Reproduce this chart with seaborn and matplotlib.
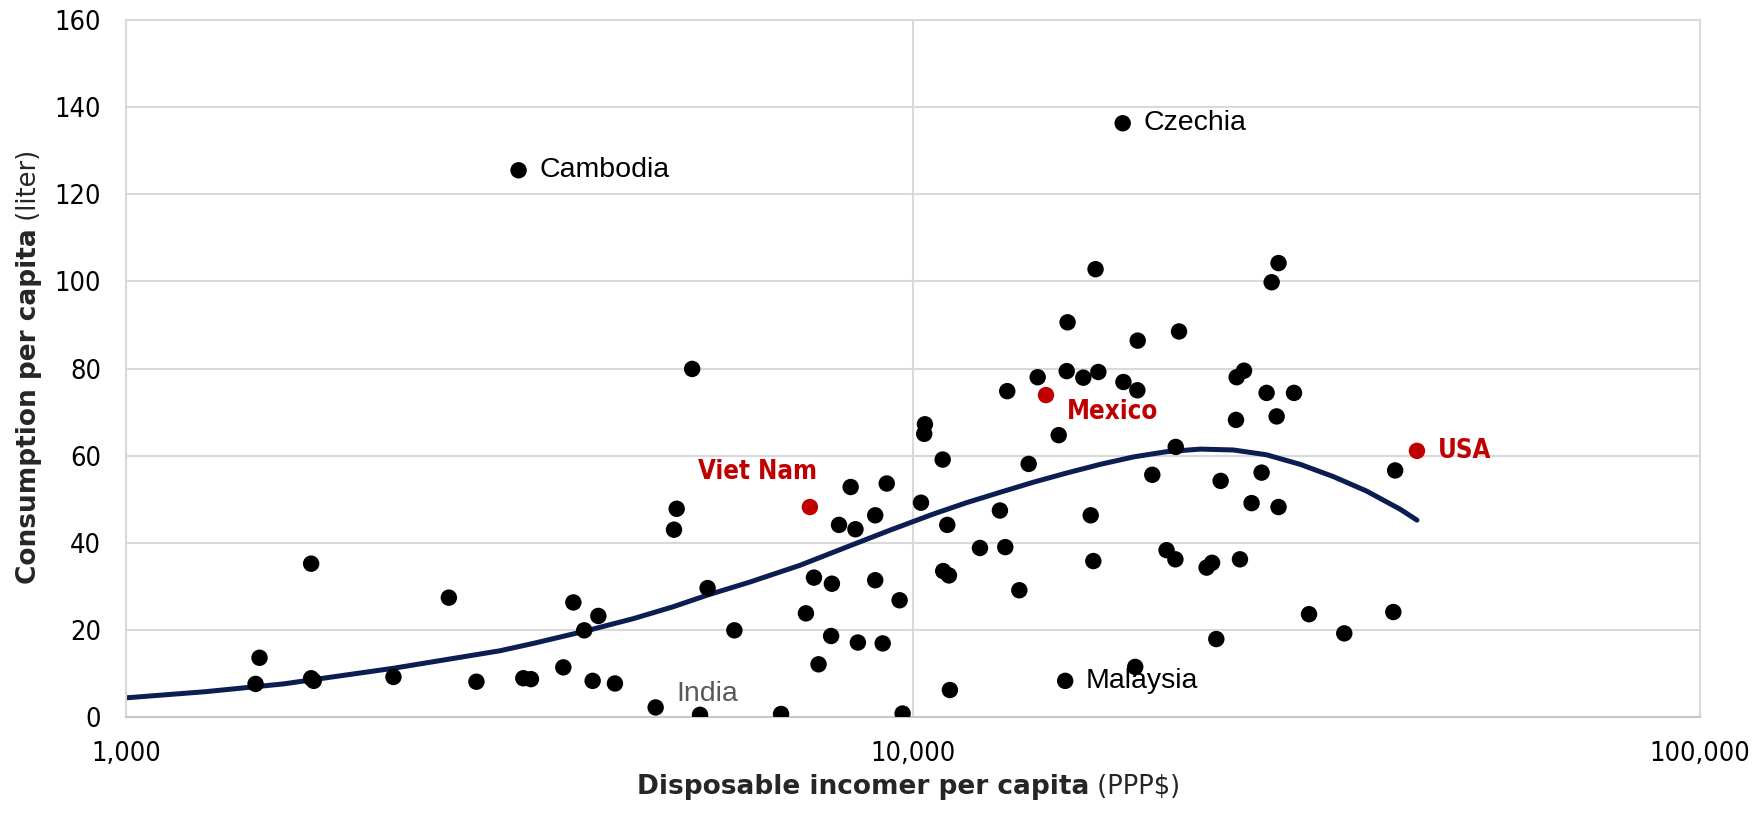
import numpy as np
import pandas as pd
import seaborn as sns
import matplotlib.pyplot as plt

# disposable income per capita (PPP$) and consumption per capita (liter)
income = [1461, 1478, 1719, 1719, 1732, 2187, 2572, 2788, 3198, 3270,
          3595, 3702, 3822, 3917, 3983, 4181, 5009, 4970, 5241, 5363,
          5483, 5930, 6798, 7311, 7485, 7586, 7888, 7870, 8054, 8333,
          8451, 8511, 8954, 8954, 9152, 9261, 9616, 9701, 10237, 10356,
          10334, 10908, 10925, 11110, 11056, 11140, 12165, 12896, 13100, 13176,
          13650, 14028, 14403, 15317, 15680, 15720, 16460, 16820, 16950, 17060,
          17200, 18510, 19160, 19300, 19280, 20140, 21000, 21550, 21570, 21780,
          23610, 23990, 24290, 24600, 25730, 25780, 26340, 26030, 26930, 27730,
          28140, 28560, 29140, 28980, 29140, 30490, 31860, 35320, 40770, 40990]
consumption = [7.6, 13.6, 35.2, 8.9, 8.3, 9.2, 27.4, 8.1, 8.9, 8.7,
               11.4, 26.3, 19.9, 8.3, 23.2, 7.7, 47.8, 43.0, 79.9, 0.5,
               29.6, 19.9, 0.7, 23.8, 32.0, 12.1, 30.6, 18.6, 44.1, 52.8,
               43.1, 17.1, 46.3, 31.4, 16.9, 53.6, 26.8, 0.8, 49.2, 67.2,
               65.0, 59.1, 33.5, 32.5, 44.1, 6.2, 38.8, 47.4, 39.0, 74.8,
               29.1, 58.1, 78.0, 64.7, 79.4, 90.6, 77.9, 46.3, 35.8, 102.8,
               79.2, 76.9, 11.5, 86.4, 75.0, 55.6, 38.3, 36.2, 62.0, 88.5,
               34.3, 35.4, 17.9, 54.2, 68.2, 78.0, 79.5, 36.2, 49.1, 56.1,
               74.4, 99.8, 104.2, 69.0, 48.2, 74.4, 23.6, 19.2, 24.1, 56.6]

# countries named in black / grey
named = ['Cambodia', 'Czechia', 'Malaysia', 'India']
named_income = [3154, 18470, 15610, 4710]
named_consumption = [125.5, 136.3, 8.3, 2.2]

# highlighted countries
red_names = ['Viet Nam', 'Mexico', 'USA']
red_income = [7396, 14757, 43690]
red_consumption = [48.2, 73.9, 61.1]

# trend line
trend_income = [1000, 1259, 1585, 2188, 2985, 3293, 3828, 4416, 4955, 5483,
                6209, 7178, 8204, 9354, 10617, 11695, 12912, 14223, 15668, 17298,
                19055, 20989, 23174, 25527, 28119, 31046, 34198, 37670, 41591, 43690]
trend_consumption = [4.4, 5.8, 7.6, 11.2, 15.2, 16.9, 19.7, 22.6, 25.3, 28.0,
                     31.0, 34.8, 38.9, 42.9, 46.6, 49.2, 51.6, 53.9, 56.0, 58.0,
                     59.7, 60.9, 61.5, 61.3, 60.2, 58.0, 55.2, 51.9, 47.7, 45.2]

xticks = [1000, 10000, 100000]
xtick_labels = ['1,000', '10,000', '100,000']
yticks = [0, 20, 40, 60, 80, 100, 120, 140, 160]

RED = '#c00000'
NAVY = '#0b1d51'
GRID = '#d9d9d9'

black_df = pd.DataFrame({'income': income + named_income,
                         'consumption': consumption + named_consumption})
red_df = pd.DataFrame({'income': red_income, 'consumption': red_consumption,
                       'country': red_names})
trend_df = pd.DataFrame({'income': trend_income, 'consumption': trend_consumption})

sns.set_style('white')
fig = plt.figure(figsize=(17.62, 8.16), dpi=100)
ax = fig.add_axes([0.0715, 0.1213, 0.8933, 0.8542])
ax.set_xscale('log')

line = sns.lineplot(data=trend_df, x='income', y='consumption', ax=ax,
                    color=NAVY, lw=3.6, zorder=2)
ax.lines[0].set_solid_joinstyle('round')
ax.lines[0].set_solid_capstyle('round')
sns.scatterplot(data=black_df, x='income', y='consumption', ax=ax, color='black',
                s=140, edgecolor='none', zorder=3)
sns.scatterplot(data=red_df, x='income', y='consumption', ax=ax, color=RED,
                s=140, edgecolor='none', zorder=3)

ax.set_xlim(1000, 100000)
ax.set_ylim(0, 160)
ax.set_xticks(xticks)
ax.set_xticklabels(xtick_labels)
ax.xaxis.set_minor_locator(plt.NullLocator())
ax.set_yticks(yticks)
ax.grid(True, color=GRID, lw=1.5)
ax.set_axisbelow(True)
for sp in ax.spines.values():
    sp.set_color(GRID)
    sp.set_linewidth(1.5)
ax.spines['bottom'].set_color('#c8c8c8')
ax.tick_params(length=0, labelsize=19.5, colors='black')
ax.tick_params(axis='y', pad=18)
ax.tick_params(axis='x', pad=17)
for lab in ax.get_xticklabels() + ax.get_yticklabels():
    lab.set_fontstretch('condensed')
ax.set_xlabel('')
ax.set_ylabel('')

# point labels
for name, x, y in zip(named, named_income, named_consumption):
    col = '#595959' if name == 'India' else 'black'
    dy = 10 if name == 'India' else 0
    ax.annotate(name, (x, y), xytext=(15, dy), textcoords='offset points',
                ha='left', va='center', fontsize=20.5, color=col,
                family=['Liberation Sans', 'DejaVu Sans'])

red_offsets = {'Viet Nam': (-38, 25, 'center'), 'Mexico': (15, -12, 'left'),
               'USA': (15, 0, 'left')}
for name, x, y in zip(red_names, red_income, red_consumption):
    dx, dy, ha = red_offsets[name]
    ax.annotate(name, (x, y), xytext=(dx, dy), textcoords='offset points',
                ha=ha, va='center', fontsize=18.5, color=RED, fontweight='bold',
                fontstretch='condensed')

# axis titles: bold part + plain unit
xt = fig.text(0.3615, 0.0355, 'Disposable incomer per capita', fontsize=19,
              fontweight='bold', ha='left', va='center')
ax.annotate(' (PPP$)', xy=(1, 0), xycoords=xt, ha='left', va='bottom',
            fontsize=18.5)
yt = fig.text(0.0165, 0.284, 'Consumption per capita', fontsize=19,
              fontweight='bold', rotation=90, ha='center', va='bottom')
ax.annotate(' (liter)', xy=(0.5, 1), xycoords=yt, ha='center', va='bottom',
            rotation=90, fontsize=18.5)

fig.savefig('out.png', dpi=100)
